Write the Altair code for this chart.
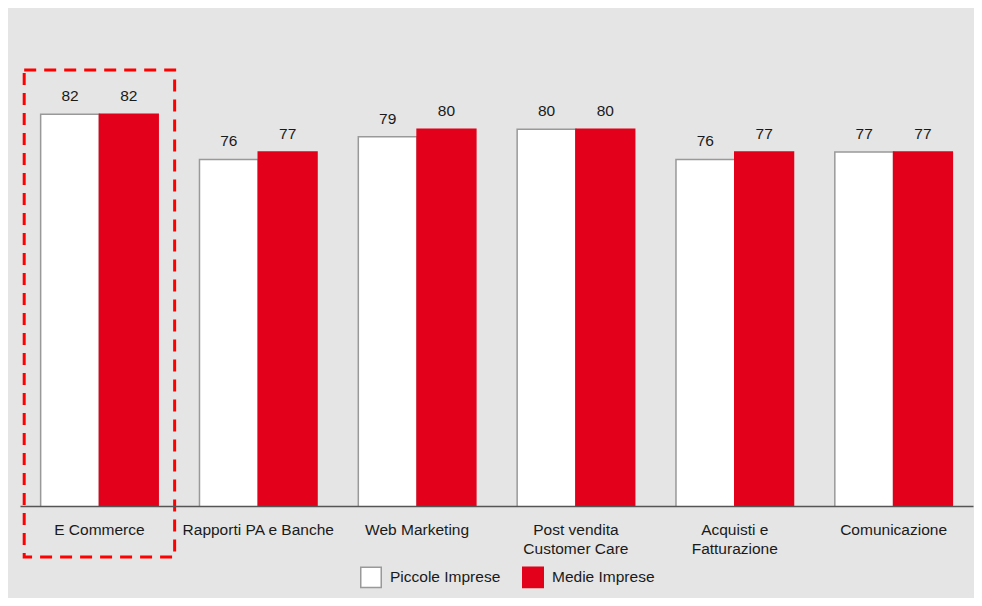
import altair as alt
import pandas as pd

categories = ["E Commerce", "Rapporti PA e Banche", "Web Marketing",
              "Post vendita\nCustomer Care", "Acquisti e\nFatturazione", "Comunicazione"]
series = ["Piccole Imprese", "Medie Imprese"]
piccole = [82, 76, 79, 80, 76, 77]
medie = [82, 77, 80, 80, 77, 77]
highlight = ["E Commerce"]

rows = []
for c, p, m in zip(categories, piccole, medie):
    rows.append({"cat": c, "serie": series[0], "val": p})
    rows.append({"cat": c, "serie": series[1], "val": m})
df = pd.DataFrame(rows)
hl = pd.DataFrame({"cat": highlight})

RED = "#e2001a"
FONT = "Liberation Sans"
FS = 15.5

x_enc = alt.X("cat:N", sort=categories,
              scale=alt.Scale(paddingInner=0.26, paddingOuter=0.13),
              axis=alt.Axis(title=None, labelAngle=0, ticks=False, domainColor="#555555",
                            domainWidth=1.5, labelFontSize=FS, labelColor="#1a1a1a",
                            labelPadding=16, labelLineHeight=19, labelFont=FONT,
                            zindex=1,
                            labelExpr="split(datum.label, '\\n')"))
y_enc = alt.Y("val:Q", scale=alt.Scale(domain=[30, 90], nice=False, zero=False),
              axis=None)

bars = alt.Chart(df).mark_bar(strokeWidth=1.5, clip=True).encode(
    x=x_enc,
    xOffset=alt.XOffset("serie:N", sort=series),
    y=y_enc,
    fill=alt.Fill("serie:N", sort=series,
                  scale=alt.Scale(domain=series, range=["#ffffff", RED]),
                  legend=alt.Legend(title=None, orient="none", legendX=340, legendY=512,
                                    direction="horizontal", labelFontSize=FS,
                                    labelColor="#1a1a1a", labelFont=FONT,
                                    symbolType="square", symbolSize=420,
                                    columnPadding=18, labelOffset=8,
                                    symbolStrokeWidth=1.5)),
    stroke=alt.Stroke("serie:N", sort=series,
                      scale=alt.Scale(domain=series, range=["#999999", RED]),
                      legend=None),
)

labels = alt.Chart(df).mark_text(baseline="bottom", dy=-10, fontSize=FS,
                                 color="#1a1a1a", font=FONT).encode(
    x=alt.X("cat:N", sort=categories),
    xOffset=alt.XOffset("serie:N", sort=series),
    y=alt.Y("val:Q"),
    text=alt.Text("val:Q"),
)

box = alt.Chart(hl).mark_rect(fillOpacity=0, fill="transparent", stroke="#ff0000",
                              strokeWidth=3, strokeDash=[12, 8],
                              width=alt.RelativeBandSize(1.28)).encode(
    x=alt.X("cat:N", sort=categories),
    y=alt.value(16),
    y2=alt.value(503),
)

chart = alt.layer(bars, labels, box).properties(
    width=953, height=452,
    background="#e5e5e5",
    autosize=alt.AutoSizeParams(type="none"),
    padding={"left": 12, "top": 46, "right": 1, "bottom": 92},
).configure(font=FONT).configure_view(stroke=None)

chart.save("out.html", embed_options={"renderer": "svg", "actions": False})
